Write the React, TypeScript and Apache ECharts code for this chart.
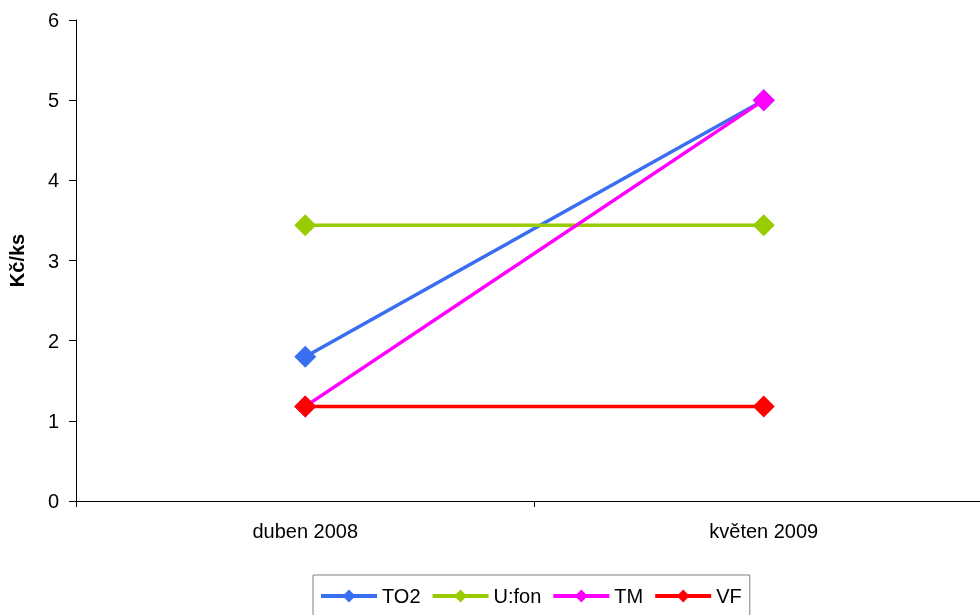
import React, { useEffect, useRef } from "react";
import * as echarts from "echarts";

const categories = ["duben 2008", "květen 2009"];
const seriesNames = ["TO2", "U:fon", "TM", "VF"];
const to2 = [1.8, 5.0];
const ufon = [3.44, 3.44];
const tm = [1.18, 5.0];
const vf = [1.18, 1.18];
const colors = ["#3A6EF0", "#99CC00", "#FF00FF", "#FF0000"];

export default function App() {
  const ref = useRef<HTMLDivElement>(null);
  useEffect(() => {
    if (!ref.current) return;
    const chart = echarts.init(ref.current, undefined, { renderer: "svg" });
    const data = [to2, ufon, tm, vf];
    chart.setOption({
      animation: false,
      textStyle: { fontFamily: "Liberation Sans, Arial, sans-serif" },
      grid: {
        left: 76,
        top: 20,
        width: 917,
        height: 481,
        containLabel: false,
        outerBoundsMode: "none",
      },
      xAxis: {
        type: "category",
        data: categories,
        boundaryGap: true,
        axisLine: { lineStyle: { color: "#000", width: 1 } },
        axisTick: { show: true, length: 6, lineStyle: { color: "#000" } },
        axisLabel: { color: "#000", fontSize: 20, margin: 20 },
        splitLine: { show: false },
      },
      yAxis: {
        type: "value",
        min: 0,
        max: 6,
        interval: 1,
        name: "Kč/ks",
        nameLocation: "middle",
        nameGap: 49,
        nameTextStyle: { color: "#000", fontSize: 20, fontWeight: "bold" },
        axisLine: { show: true, lineStyle: { color: "#000", width: 1 } },
        axisTick: { show: true, length: 7, lineStyle: { color: "#000" } },
        axisLabel: { color: "#000", fontSize: 20, margin: 17 },
        splitLine: { show: false },
      },
      legend: {
        left: 313,
        top: 575,
        itemWidth: 56,
        itemHeight: 16,
        itemGap: 10,
        padding: [11, 8, 20, 6],
        borderColor: "#808080",
        borderWidth: 1,
        lineStyle: { width: 4 },
        textStyle: { color: "#000", fontSize: 20 },
        data: seriesNames,
      },
      series: seriesNames.map((name, i) => ({
        name,
        type: "line",
        data: data[i],
        color: colors[i],
        symbol: "diamond",
        symbolSize: 22,
        lineStyle: { width: 3.5, color: colors[i] },
        itemStyle: { color: colors[i] },
      })),
    });
    return () => chart.dispose();
  }, []);
  return <div ref={ref} style={{ width: 980, height: 615, position: "fixed", left: 0, top: 0 }} />;
}
